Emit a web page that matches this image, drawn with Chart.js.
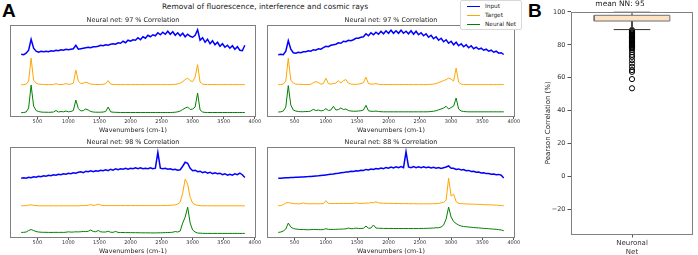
<!DOCTYPE html>
<html>
<head>
<meta charset="utf-8">
<script src="https://cdn.jsdelivr.net/npm/chart.js@4.4.1/dist/chart.umd.min.js"></script>
<style>
  body { margin: 0; background: #fff; width: 698px; height: 255px; overflow: hidden; position: relative; font-family: "DejaVu Sans", sans-serif; color: #222; }
  canvas { position: absolute; }
  .panel { position: absolute; font-family: "Liberation Sans", Arial, sans-serif; font-weight: bold; font-size: 19px; color: #000; }
  #suptitle { position: absolute; left: 65px; width: 400px; top: 2px; text-align: center; font-size: 7.5px; }
  #legend { position: absolute; left: 460px; top: 0px; width: 60px; height: 28px; border: 1px solid #d8d8d8; border-radius: 2px; background: #fff; z-index: 5; font-size: 5.8px; }
  #legend div { position: absolute; left: 24px; }
  #legend span { position: absolute; left: -18px; top: 3px; width: 13px; height: 0; border-top: 1.3px solid; }
</style>
</head>
<body>
<div class="panel" style="left:2px; top:0px;">A</div>
<div class="panel" style="left:528px; top:0px;">B</div>
<div id="suptitle">Removal of fluorescence, interference and cosmic rays</div>
<div id="legend">
  <div style="top:2px;"><span style="border-color:#0000ff"></span>Input</div>
  <div style="top:11px;"><span style="border-color:#ffa500"></span>Target</div>
  <div style="top:20px;"><span style="border-color:#008000"></span>Neural Net</div>
</div>
<canvas id="s1" width="266" height="118" style="left:0px; top:16px;"></canvas>
<canvas id="s2" width="268" height="118" style="left:257px; top:16px;"></canvas>
<canvas id="s3" width="266" height="117" style="left:0px; top:137.5px;"></canvas>
<canvas id="s4" width="268" height="117" style="left:257px; top:137.5px;"></canvas>
<canvas id="box" width="158" height="255" style="left:540px; top:0px;"></canvas>
<script>
// wavenumber grid (cm-1) shared by all spectra
const wavenumbers = [240,280,320,360,400,440,480,520,560,600,640,680,720,760,800,840,880,920,960,1000,
  1040,1080,1120,1160,1200,1240,1280,1320,1360,1400,1440,1480,1520,1560,1600,1640,1680,1720,1760,1800,
  1840,1880,1920,1960,2000,2040,2080,2120,2160,2200,2240,2280,2320,2360,2400,2440,2480,2520,2560,2600,
  2640,2680,2720,2760,2800,2840,2880,2920,2960,3000,3040,3080,3120,3160,3200,3240,3280,3320,3360,3400,
  3440,3480,3520,3560,3600,3640,3680,3720,3760,3800,3840];
const xTicks = [500, 1000, 1500, 2000, 2500, 3000, 3500, 4000];

// spectra, stacked with offsets (arbitrary units)
const p1Input = [63,62.5,64,67,78,69,66,65,66,65.5,
  66,65.5,66.5,66,67,66.5,67.5,67,68,67.5,
  68,68.5,72,68,68.5,69,69.5,70,69.5,70.5,
  70.5,71,72,71.5,72.5,72,73,73.5,73,74.5,
  74,76,74.5,77,76,77.5,77,79.5,77.5,80.5,
  79,82,80.5,82.5,81.5,84.5,82.5,85,83,86,
  83,85.5,82,84.5,81.5,84,80.5,83,81,80,
  82,87.5,77,79.5,75,78,73.5,76.5,72.5,75,
  71,73.5,70,72,69,71.5,68,70.5,67,66.5,
  72];
const p1Target = [32.4,32.4,33,36,59,37,34,33,32.8,32.6,
  32.5,32.5,32.5,32.5,33.5,32.6,32.6,32.8,33.5,32.8,
  33,34,47,36,33.5,34,35,34,33,32.8,
  32.6,32.6,32.6,32.8,33.5,36.5,33,32.6,32.5,32.5,
  32.5,32.5,32.5,32.5,32.5,32.5,32.5,32.5,32.5,32.5,
  32.5,32.5,32.5,32.5,32.5,32.5,32.5,32.5,32.5,32.5,
  32.5,32.6,32.8,33.2,34,35.5,37.5,39,36.5,35.5,
  40,52.5,35,33,32.6,32.5,32.5,32.5,32.5,32.5,
  32.5,32.5,32.5,32.5,32.5,32.5,32.5,32.5,32.5,32.5,
  32.5];
const p1Net = [4.4,4.5,5,9,32,11,6.5,5.5,5,4.8,
  4.8,4.7,4.8,5,6.5,5,5.5,5.2,6,5.2,
  5.5,6.5,17,8.5,6,6.5,8,7,5.5,5,
  4.8,4.8,4.8,5,5.5,10,5.2,4.8,4.7,4.6,
  4.5,4.5,4.5,4.5,4.5,4.5,4.5,4.5,4.5,4.5,
  4.5,4.5,4.5,4.5,4.5,4.5,4.5,4.5,4.5,4.5,
  4.5,4.6,4.8,5.2,6,7.5,9,10,7.5,8,
  10,24,7,5,4.6,4.5,4.5,4.5,4.5,4.5,
  4.5,4.5,4.5,4.5,4.5,4.5,4.5,4.5,4.5,4.5,
  4.5];

const p2Input = [62.5,63,62.5,66,76.5,68,64.5,64,65,64.5,
  65.5,65.5,66.5,66,67.5,67,68.5,68,69.5,71,
  70.5,72,72.5,73,74.5,74,76,75.5,77,76.5,
  77.5,79,79,80,80.5,83.5,81.5,84.5,82.5,85,
  83,86,83.5,86.5,84,87,84,86.5,84,87,
  84,86,83.5,86.5,83,86,82.5,84.5,81.5,83.5,
  80,82,78.5,80.5,77,79,75.5,77.5,74,76,
  72.5,75,71.5,73.5,70.5,72.5,69.5,71.5,68.5,70,
  68,69,67,68,66,67,65,66,64,64.5,
  62.7];
const p2Target = [32.4,32.5,33,36,59,37,34,33,32.8,32.7,
  32.6,32.6,32.6,32.8,34.5,35.5,34.5,33,33.5,39,
  33.5,33,33.5,34,36.5,34,36.5,37.5,34,33,
  32.8,32.8,33,33.5,34.5,40,33.5,33,33,33.5,
  32.8,32.6,32.5,32.5,32.5,32.5,32.5,32.5,32.5,32.5,
  32.5,32.5,32.5,32.5,32.5,32.5,32.5,32.5,32.5,32.5,
  32.6,32.8,33,33.5,34.5,35.5,36.5,37.5,39,38,
  36,49,35,33,32.6,32.5,32.5,32.5,32.5,32.5,
  32.5,32.5,32.5,32.5,32.5,32.5,32.5,32.5,32.5,32.5,
  32.5];
const p2Net = [5,5.2,6,10,31.5,12,7,6,5.5,5.3,
  5.3,5.5,5.5,6,7.7,6.5,7,6.2,6.5,8.4,
  6.5,7,10.7,7,7.5,9,7.5,8,6.5,6,
  5.8,5.8,6,6.3,7,11.7,6.2,5.8,5.6,6,
  5.5,5.3,5.2,5.2,5.2,5.2,5.2,5.2,5.2,5.2,
  5.2,5.2,5.2,5.2,5.2,5.2,5.2,5.2,5.2,5.2,
  5.3,5.5,5.8,6.3,7.2,8,9,10.7,8,9.5,
  11,19,8,6,5.5,5.3,5.2,5.2,5.2,5.2,
  5.2,5.2,5.2,5.2,5.2,5.2,5.2,5.2,5.2,5.2,
  5.2];

const p3Input = [60,60.5,60,61,60.5,61.5,61,62,61.5,62.5,
  62,63,62.5,63.5,63,64,63.5,64.5,64,65,
  64.5,65.5,65,66,66.5,65.5,67,66.5,67.5,66.5,
  67.5,67,68,67.5,68.5,67.5,69,68,69.5,68.5,
  69.5,69,70,69,70,69.5,70.5,69.5,70.5,69.5,
  70,69.5,70.5,69.5,70,86,70,69.5,70,69,
  69.5,68.5,69,68,68.5,72,76,75,70,67.5,
  68,66.5,67,65.5,66.5,65,66,64.5,65.5,64.5,
  65,63.5,64.5,63,64,63,64.5,63.5,65,63.5,
  60.6];
const p3Target = [32.3,32.3,32.5,33,33.3,32.8,32.5,32.3,32.3,32.3,
  32.3,32.3,32.3,32.3,32.3,32.3,32.3,32.3,32.3,32.3,
  32.3,32.3,32.3,32.3,32.5,32.5,32.6,32.8,33.5,32.8,
  33,34,33,32.6,32.5,32.5,32.5,32.5,32.5,32.5,
  32.5,32.5,32.5,32.5,32.5,32.5,32.5,32.5,32.5,32.5,
  32.5,32.5,32.5,32.5,32.5,32.5,32.5,32.6,32.6,32.7,
  32.8,33,33.3,34,36,45,59,54,41,35,
  33.5,32.8,32.5,32.3,32.3,32.3,32.3,32.3,32.3,32.3,
  32.3,32.3,32.3,32.3,32.3,32.3,32.3,32.3,32.3,32.3,
  32.3];
const p3Net = [5.6,5.7,6,7.5,8.5,7.5,6.5,6,5.8,5.7,
  5.7,5.6,5.6,5.6,5.7,5.6,5.7,5.6,5.8,6.2,
  5.9,6,6.2,6.1,6.3,6.5,6.4,6.8,8,6.5,
  6.3,7.5,6.2,6,6,6.8,5.8,5.7,6.6,5.6,
  5.5,5.5,5.4,5.4,5.4,5.3,5.3,5.3,5.2,5.2,
  5.2,5.2,5.1,5.1,5.1,5.2,5.2,5.3,5.4,5.5,
  5.6,5.8,6.5,6,7,15,21,31,15,8,
  6,5,4.8,4.7,4.6,4.6,4.6,4.6,4.6,4.6,
  4.6,4.6,4.6,4.6,4.6,4.6,4.6,4.6,4.6,4.6,
  4.6];

const p4Input = [60,60,60.3,60.5,60.5,60.7,60.8,61,61,61.2,
  61.3,61.5,61.6,61.8,62,62.2,62.4,62.7,63,63.3,
  63.6,64,64.3,64.8,65,65.5,65.6,66.2,66.3,67,
  66.8,67.5,67.3,68,67.8,68.8,68.3,69.3,68.8,69.8,
  69.3,70.3,69.6,70.8,70,71.2,70.3,71.5,70.5,71.6,
  70.6,86.5,71.3,70.5,71.6,70.6,71.5,70.6,71.4,70.5,
  71.2,70.3,71,70,70.6,69.8,70.5,71.2,72.3,70,
  70,68.8,69.3,68.2,68.6,67.5,67.8,66.8,67,66,
  66.2,65.3,65.5,64.6,64.8,64,64.3,63.5,63.8,63,
  60.3];
const p4Target = [32.3,32.5,33.5,35,35.6,35,34.6,34.4,34.3,34.5,
  35.2,34.5,34.4,34.3,34.4,34.4,34.3,34.4,34.5,37.5,
  34.8,34.5,34.6,34.6,34.7,34.6,34.8,34.7,34.6,34.7,
  34.8,35.3,34.8,34.7,34.8,35,35,35.5,35.4,36.3,
  35.3,35,34.9,34.8,34.8,34.7,34.7,34.6,34.6,34.5,
  34.5,34.5,34.4,34.4,34.4,34.3,34.3,34.3,34.3,34.3,
  34.3,34.3,34.4,34.5,34.7,35.2,35.8,38,60,42,
  44,36.5,34.8,34.5,34.3,34.2,34,34,33.9,33.8,
  33.7,33.6,33.5,33.4,33.3,33.2,33.1,33,32.8,32.6,
  32.3];
const p4Net = [5.6,6,7,9,15,11,9.5,9,8.7,8.5,
  8.5,8.3,8.3,8.4,8.6,8.5,8.4,8.3,8.5,9.3,
  8.7,8.6,8.6,8.7,8.8,8.9,9,9.2,10,9.3,
  9.4,10,9.5,9.6,9.7,12,9.8,10,13,10,
  9.8,9.7,9.6,9.6,9.6,9.6,9.5,9.5,9.5,9.5,
  9.5,9.5,9.5,9.5,9.5,9.5,9.5,9.6,9.6,9.7,
  9.8,9.9,10,10.3,10.3,11,13,19,31,21,
  16.5,14.5,13,12,11.5,11.3,11,10.8,10.5,10.3,
  10.1,9.9,9.7,9.5,9.3,9.1,8.9,8.7,8.4,8,
  7.3];

const panelTitles = ['Neural net: 97 % Correlation', 'Neural net: 97 % Correlation',
  'Neural net: 98 % Correlation', 'Neural net: 88 % Correlation'];

// box plot of Pearson correlation (%)
const boxQuartiles = [94.5, 98];     // Q1, Q3
const boxWhiskers = [89.3, 100];     // low, high
const outliers = [89, 88.5, 88, 87.5, 87, 86.5, 86, 85.5, 85, 84.5, 84, 83.5, 83, 82.5, 82, 81.5,
  81, 80.5, 80, 79.5, 79, 78.5, 78, 77, 75.5, 74, 72.7, 70.7, 68.7, 66.7, 64.7, 63.6, 59.2, 53.6];
const meanNN = 95;
const yTicksB = [-20, 0, 20, 40, 60, 80, 100];

Chart.defaults.font.family = '"DejaVu Sans", sans-serif';
Chart.defaults.color = '#333';

const frame = {
  id: 'frame',
  afterDatasetsDraw(chart) {
    const a = chart.chartArea, ctx = chart.ctx;
    ctx.save();
    ctx.strokeStyle = '#808080';
    ctx.lineWidth = 1;
    ctx.strokeRect(Math.round(a.left) + 0.5, Math.round(a.top) + 0.5,
      Math.round(a.right - a.left) - 1, Math.round(a.bottom - a.top) - 1);
    ctx.restore();
  }
};

function xy(vals) {
  return wavenumbers.map((w, i) => ({x: w, y: vals[i]}));
}

function spectrum(id, title, input, target, net, ymax) {
  new Chart(document.getElementById(id), {
    type: 'line',
    data: {
      datasets: [
        {label: 'Input', data: xy(input), borderColor: '#0000ff', borderWidth: 1.5, pointRadius: 0},
        {label: 'Target', data: xy(target), borderColor: '#ffa500', borderWidth: 1, pointRadius: 0},
        {label: 'Neural Net', data: xy(net), borderColor: '#008000', borderWidth: 1, pointRadius: 0}
      ]
    },
    options: {
      responsive: false, animation: false, devicePixelRatio: 1,
      layout: {padding: {left: 10, right: 10, top: 0, bottom: 0}},
      plugins: {
        legend: {display: false}, tooltip: {enabled: false},
        title: {display: true, text: title, color: '#222', font: {size: 6.5, weight: 'normal'}, padding: {top: 0, bottom: 1.5}}
      },
      scales: {
        x: {
          type: 'linear', min: 60, max: 4020,
          afterFit(s) { s.height = 17; },
          afterBuildTicks(s) { s.ticks = xTicks.map(v => ({value: v})); },
          ticks: {autoSkip: false, maxRotation: 0, padding: 0,
            font: {size: 5}, color: '#333', callback: v => String(v)},
          grid: {drawOnChartArea: false, tickLength: 2, color: '#555'},
          border: {display: false},
          title: {display: true, text: 'Wavenumbers (cm-1)', color: '#222', font: {size: 6.3}, padding: 0}
        },
        y: {display: false, min: 0, max: ymax}
      }
    },
    plugins: [frame]
  });
}

spectrum('s1', panelTitles[0], p1Input, p1Target, p1Net, 92);
spectrum('s2', panelTitles[1], p2Input, p2Target, p2Net, 92);
spectrum('s3', panelTitles[2], p3Input, p3Target, p3Net, 91);
spectrum('s4', panelTitles[3], p4Input, p4Target, p4Net, 91);

// panel B
const bx0 = 0.69, bx1 = 1.31, cx0 = 0.85, cx1 = 1.15;
new Chart(document.getElementById('box'), {
  type: 'scatter',
  data: {
    datasets: [
      {type: 'line', data: [{x: bx0, y: boxQuartiles[0]}, {x: bx1, y: boxQuartiles[0]}, {x: bx1, y: boxQuartiles[1]},
          {x: bx0, y: boxQuartiles[1]}, {x: bx0, y: boxQuartiles[0]}],
        borderColor: '#707070', borderWidth: 1, backgroundColor: '#fde3c3', fill: 'shape', pointRadius: 0},
      {type: 'line', data: [{x: 1, y: boxQuartiles[1]}, {x: 1, y: boxWhiskers[1]}], borderColor: '#333', borderWidth: 1, pointRadius: 0},
      {type: 'line', data: [{x: 1, y: boxQuartiles[0]}, {x: 1, y: boxWhiskers[0]}], borderColor: '#333', borderWidth: 1, pointRadius: 0},
      {type: 'line', data: [{x: cx0, y: boxWhiskers[1]}, {x: cx1, y: boxWhiskers[1]}], borderColor: '#333', borderWidth: 1, pointRadius: 0},
      {type: 'line', data: [{x: cx0, y: boxWhiskers[0]}, {x: cx1, y: boxWhiskers[0]}], borderColor: '#333', borderWidth: 1, pointRadius: 0},
      {data: outliers.map(v => ({x: 1, y: v})), pointRadius: 2.6, borderColor: '#000', borderWidth: 1,
        backgroundColor: 'rgba(0,0,0,0)', pointStyle: 'circle'}
    ]
  },
  options: {
    responsive: false, animation: false, devicePixelRatio: 1,
    layout: {padding: {left: 4, right: 2, top: 0, bottom: 0}},
    plugins: {
      legend: {display: false}, tooltip: {enabled: false},
      title: {display: true, text: 'mean NN: ' + meanNN, color: '#222', font: {size: 7.5, weight: 'normal'}, padding: {top: 0, bottom: 2.5}}
    },
    scales: {
      x: {
        type: 'linear', min: 0.5, max: 1.5,
        afterFit(s) { s.height = 21; },
        afterBuildTicks(s) { s.ticks = [{value: 1}]; },
        ticks: {font: {size: 7, lineHeight: 1.3}, color: '#333', padding: 1, maxRotation: 0,
          callback: () => ['Neuronal', 'Net']},
        grid: {drawOnChartArea: false, tickLength: 3.5, color: '#555'},
        border: {display: false}
      },
      y: {
        min: -35, max: 100.3,
        afterFit(s) { s.width = 27; },
        afterBuildTicks(s) { s.ticks = yTicksB.map(v => ({value: v})); },
        ticks: {font: {size: 6.5}, color: '#333', padding: 2,
          callback: v => v < 0 ? '\u2212' + Math.abs(v) : String(v)},
        grid: {drawOnChartArea: false, tickLength: 3.5, color: '#555'},
        border: {display: false},
        title: {display: true, text: 'Pearson Correlation (%)', color: '#222', font: {size: 7}, padding: 0}
      }
    }
  },
  plugins: [frame]
});
</script>
</body>
</html>
